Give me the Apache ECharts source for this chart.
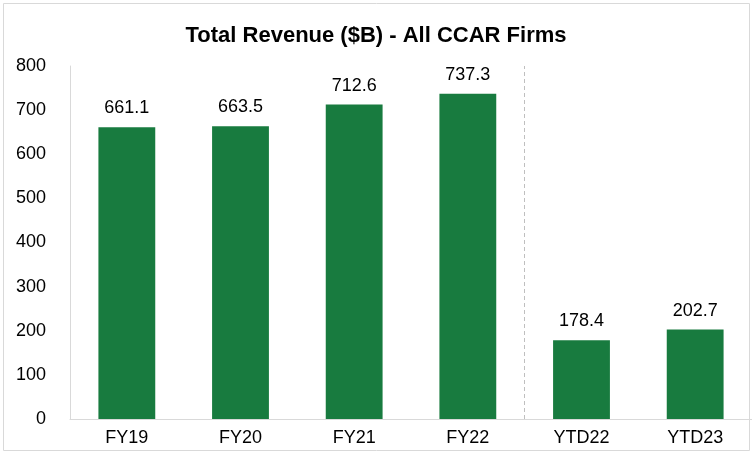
<!DOCTYPE html>
<html>
<head>
<meta charset="utf-8">
<script src="https://cdn.jsdelivr.net/npm/echarts@6/dist/echarts.min.js"></script>
<style>
  html, body { margin: 0; padding: 0; background: #fff; }
  #chart { width: 752px; height: 453px; }
</style>
</head>
<body>
<div id="chart"></div>
<script>
// 数据
var categories = ['FY19', 'FY20', 'FY21', 'FY22', 'YTD22', 'YTD23'];
var revenue = [661.1, 663.5, 712.6, 737.3, 178.4, 202.7];
var yTicks = [0, 100, 200, 300, 400, 500, 600, 700, 800];
var splitIndex = 4; // FY和YTD之间的分隔线位置

var chart = echarts.init(document.getElementById('chart'));
var font = 'Liberation Sans, Arial, sans-serif';

chart.setOption({
  animation: false,
  textStyle: { fontFamily: font },
  title: {
    text: 'Total Revenue ($B) - All CCAR Firms',
    left: 'center',
    top: 20,
    textStyle: { fontSize: 22, fontWeight: 'bold', color: '#000', fontFamily: font }
  },
  graphic: [{
    type: 'rect',
    shape: { x: 3.5, y: 3.5, width: 746, height: 447 },
    style: { fill: 'none', stroke: '#d9d9d9', lineWidth: 1 },
    silent: true
  }],
  grid: { left: 70, right: -3, top: 66, bottom: 34 },
  xAxis: [{
    type: 'category',
    data: categories,
    axisLine: { lineStyle: { color: '#d9d9d9' } },
    axisTick: { show: false },
    axisLabel: { color: '#000', fontSize: 18, margin: 10, fontFamily: font }
  }, {
    // 隐藏的数值轴，只用来定位虚线
    type: 'value',
    min: 0,
    max: categories.length,
    show: false
  }],
  yAxis: {
    type: 'value',
    min: yTicks[0],
    max: yTicks[yTicks.length - 1],
    interval: 100,
    axisLine: { show: true, lineStyle: { color: '#d9d9d9' } },
    axisTick: { show: false },
    splitLine: { show: false },
    axisLabel: { color: '#000', fontSize: 18, margin: 24, fontFamily: font }
  },
  series: [{
    type: 'bar',
    data: revenue,
    barWidth: '50%',
    itemStyle: { color: '#187B3F' },
    label: {
      show: true,
      position: 'top',
      distance: 10,
      color: '#000',
      fontSize: 18,
      fontFamily: font,
      formatter: function (p) { return p.value.toFixed(1); }
    }
  }, {
    type: 'line',
    xAxisIndex: 1,
    data: [],
    markLine: {
      silent: true,
      symbol: 'none',
      label: { show: false },
      lineStyle: { color: '#bfbfbf', type: [4, 3], width: 1 },
      data: [{ xAxis: splitIndex }]
    }
  }]
});
</script>
</body>
</html>
